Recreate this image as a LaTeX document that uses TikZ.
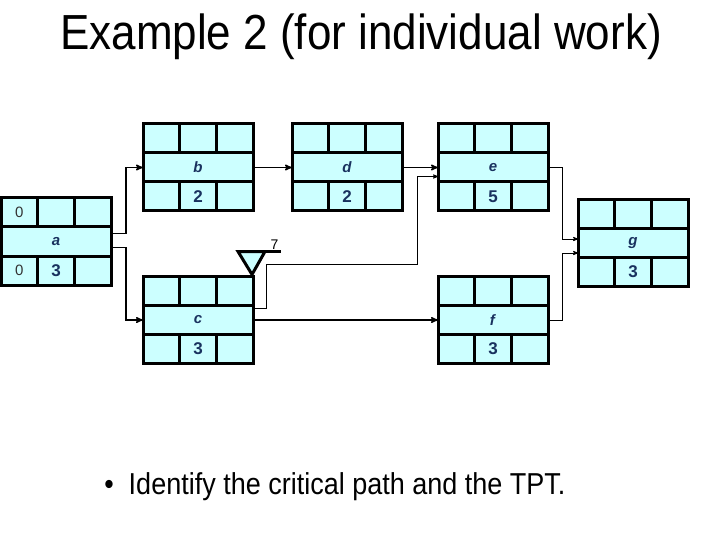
\documentclass[tikz,border=0pt]{standalone}
\usepackage{fontspec}
\setmainfont{Liberation Sans}
\usetikzlibrary{arrows,positioning,calc}

\definecolor{boxfill}{RGB}{204,255,255}
\definecolor{boxtext}{RGB}{25,50,95}

% one activity box: name, position of the middle row, label, duration
\newcommand{\actbox}[4]{%
	\node[midrow]  (#1)   at (#2)                          {\textbf{\textit{#3}}};
	\node[cell]    (#1tl) [above right=0pt and 0pt of #1.north west] {};
	\node[cell]    (#1tm) [right=0pt of #1tl]               {};
	\node[cell]    (#1tr) [right=0pt of #1tm]               {};
	\node[cell]    (#1bl) [below right=0pt and 0pt of #1.south west] {};
	\node[cell]    (#1bm) [right=0pt of #1bl]               {\textbf{#4}};
	\node[cell]    (#1br) [right=0pt of #1bm]               {};
}

\begin{document}
\begin{tikzpicture}[x=1pt, y=-1pt, >=stealth', semithick]
	\tikzstyle{midrow}=[draw=black, fill=boxfill, line width=3pt, inner sep=0pt, outer sep=0pt,
		minimum width=110pt, minimum height=29pt, text=boxtext, font=\fontsize{15}{17}\selectfont]
	\tikzstyle{cell}=[draw=black, fill=boxfill, line width=3pt, inner sep=0pt, outer sep=0pt,
		minimum width=36.67pt, minimum height=29pt, text=boxtext, font=\fontsize{17}{19}\selectfont]
	\tikzstyle{zero}=[text=black!80, inner sep=0pt, font=\fontsize{15}{17}\selectfont]
	\tikzstyle{link}=[->, line width=1.4pt]
	\tikzstyle{thinlink}=[->, line width=0.8pt]
	\useasboundingbox (0,0) rectangle (720,540);

	\node[anchor=base] (title) at (361,50)
		{\scalebox{1}[1.12]{\fontsize{44}{50}\selectfont Example 2 (for individual work)}};

	\actbox{a}{56,241.5}{a}{3}
	\actbox{b}{198,167.5}{b}{2}
	\actbox{d}{347,167.5}{d}{2}
	\actbox{e}{493,167.5}{e}{5}
	\actbox{c}{198,320}{c}{3}
	\actbox{f}{493,320}{f}{3}
	\actbox{g}{633,243}{g}{3}
	\node[zero] (a-es) at (atl) {0};
	\node[zero] (a-ls) at (abl) {0};

	% connectors
	\draw[link] ($(a.east)+(0,-8)$) -- ++(15,0) |- (b.west);
	\draw[link] ($(a.east)+(0,6)$) -- ++(15,0) |- (c.west);
	\draw[link] (b.east) -- (d.west);
	\draw[link] (d.east) -- (e.west);
	\draw[link] (c.east) -- (f.west);
	\coordinate (ce1) at ($(c.east)+(13,-56)$);
	\coordinate (ce2) at ($(e.west)+(-21,9)$);
	\draw[thinlink] ($(c.east)+(0,-12)$) -| (ce1) -| (ce2) -- ($(e.west)+(0,9)$);
	\draw[thinlink] (e.east) -- ++(14,0) |- ($(g.west)+(0,-4)$);
	\draw[thinlink] (f.east) -- ++(14,0) |- ($(g.west)+(0,10)$);

	% deadline marker on c
	\coordinate (ctip) at ($(ctr.north east)+(-1,-2)$);
	\draw[fill=boxfill, line width=3pt, line join=miter] (ctip) -- ++(-14,-23) -- ++(27,0) -- cycle;
	\draw[line width=3pt] ($(ctip)+(-15,-23)$) -- ++(44,0) coordinate (mark)
		node[above left, inner sep=1pt, font=\fontsize{14}{16}\selectfont] (limit) {7};

	\node[anchor=base west, inner sep=0pt] (task) at (104,494)
		{\scalebox{1}[1.12]{\fontsize{27}{31}\selectfont\textbullet\ \ Identify the critical path and the TPT.}};
\end{tikzpicture}
\end{document}
